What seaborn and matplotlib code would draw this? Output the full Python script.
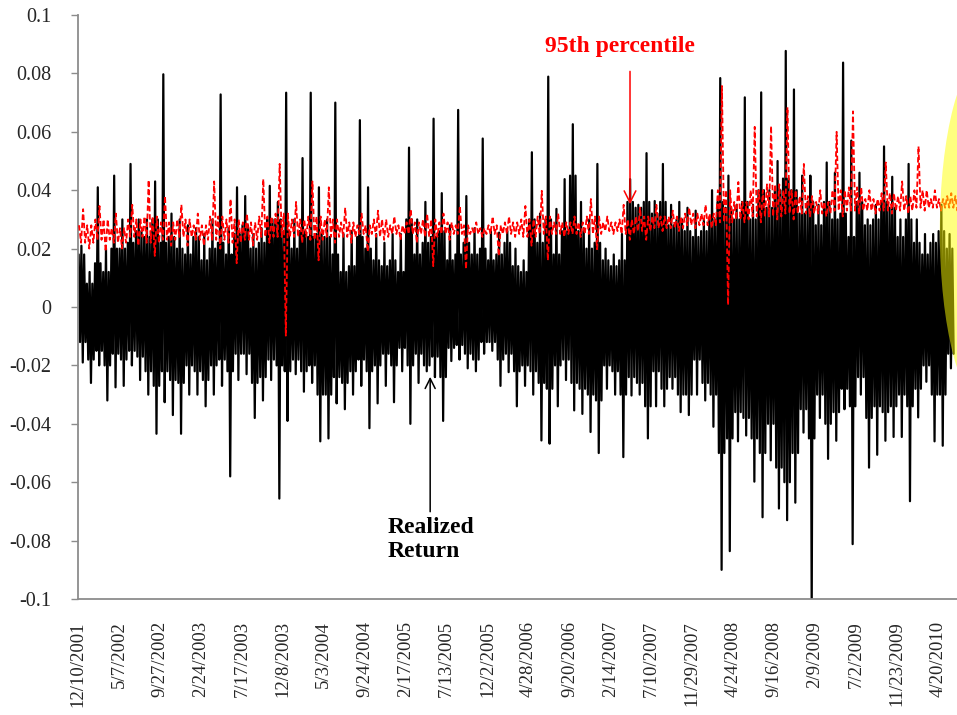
import numpy as np
import pandas as pd
import matplotlib
matplotlib.use('Agg')
import matplotlib.pyplot as plt
from matplotlib.patches import Ellipse
import seaborn as sns

# category labels shown on the x axis (one every 100 trading days)
date_labels = ['12/10/2001', '5/7/2002', '9/27/2002', '2/24/2003', '7/17/2003', '12/8/2003',
               '5/3/2004', '9/24/2004', '2/17/2005', '7/13/2005', '12/2/2005', '4/28/2006',
               '9/20/2006', '2/14/2007', '7/10/2007', '11/29/2007', '4/24/2008', '9/16/2008',
               '2/9/2009', '7/2/2009', '11/23/2009', '4/20/2010']

# realized return, read per block of 20 trading days:
# extreme high / low and the second-tier high / low (edge of the dense band)
ret_hi = [0.021, 0.012, 0.041, 0.020, 0.045, 0.030, 0.049, 0.030, 0.030, 0.043,
          0.0797, 0.032, 0.030, 0.028, 0.027, 0.025, 0.030, 0.0728, 0.027, 0.041,
          0.038, 0.025, 0.027, 0.0415, 0.036, 0.0734, 0.030, 0.051, 0.0734, 0.041,
          0.030, 0.070, 0.025, 0.026, 0.064, 0.041, 0.025, 0.022, 0.025, 0.025,
          0.0546, 0.030, 0.036, 0.0645, 0.039, 0.028, 0.0675, 0.038, 0.027, 0.0577,
          0.026, 0.0255, 0.026, 0.020, 0.016, 0.053, 0.032, 0.0789, 0.0336, 0.0438,
          0.0626, 0.036, 0.030, 0.049, 0.020, 0.018, 0.025, 0.0438, 0.035, 0.0527,
          0.0363, 0.049, 0.035, 0.036, 0.034, 0.033, 0.030, 0.040, 0.0784, 0.045,
          0.035, 0.0718, 0.035, 0.0735, 0.040, 0.050, 0.0877, 0.0745, 0.045, 0.045,
          0.035, 0.0495, 0.046, 0.0837, 0.057, 0.046, 0.030, 0.035, 0.055, 0.0446,
          0.030, 0.049, 0.030, 0.025, 0.025, 0.035, 0.025]
ret_lo = [-0.019, -0.026, -0.020, -0.032, -0.0275, -0.027, -0.020, -0.025, -0.030, -0.0434,
          -0.0326, -0.037, -0.0434, -0.030, -0.030, -0.034, -0.030, -0.027, -0.058, -0.025,
          -0.023, -0.038, -0.032, -0.025, -0.0656, -0.039, -0.023, -0.029, -0.026, -0.046,
          -0.045, -0.033, -0.035, -0.030, -0.027, -0.0415, -0.033, -0.027, -0.0326, -0.022,
          -0.040, -0.026, -0.022, -0.024, -0.039, -0.0185, -0.018, -0.021, -0.022, -0.016,
          -0.015, -0.027, -0.0223, -0.034, -0.027, -0.030, -0.0457, -0.0468, -0.034, -0.025,
          -0.0354, -0.0366, -0.0428, -0.050, -0.028, -0.030, -0.0514, -0.0303, -0.030, -0.045,
          -0.034, -0.034, -0.028, -0.036, -0.037, -0.030, -0.032, -0.041, -0.090, -0.0836,
          -0.046, -0.044, -0.0598, -0.072, -0.0525, -0.069, -0.073, -0.067, -0.043, -0.105,
          -0.038, -0.052, -0.0458, -0.035, -0.0812, -0.030, -0.055, -0.0506, -0.0458, -0.0445,
          -0.0445, -0.0665, -0.0378, -0.0256, -0.046, -0.0475, -0.021]
ret_hi2 = [0.018, 0.008, 0.015, 0.012, 0.020, 0.020, 0.022, 0.026, 0.024, 0.030,
           0.022, 0.024, 0.020, 0.018, 0.024, 0.016, 0.020, 0.022, 0.018, 0.025,
           0.028, 0.020, 0.022, 0.030, 0.030, 0.026, 0.020, 0.026, 0.024, 0.025,
           0.024, 0.018, 0.012, 0.014, 0.024, 0.020, 0.016, 0.014, 0.016, 0.012,
           0.030, 0.018, 0.022, 0.024, 0.026, 0.016, 0.018, 0.022, 0.018, 0.020,
           0.016, 0.018, 0.022, 0.014, 0.012, 0.030, 0.022, 0.030, 0.018, 0.026,
           0.045, 0.026, 0.020, 0.022, 0.016, 0.014, 0.016, 0.036, 0.034, 0.036,
           0.032, 0.036, 0.028, 0.030, 0.026, 0.024, 0.026, 0.030, 0.036, 0.034,
           0.030, 0.036, 0.030, 0.040, 0.034, 0.040, 0.044, 0.040, 0.032, 0.036,
           0.028, 0.036, 0.030, 0.032, 0.024, 0.036, 0.028, 0.030, 0.036, 0.034,
           0.024, 0.030, 0.022, 0.018, 0.022, 0.026, 0.020]
ret_lo2 = [-0.012, -0.018, -0.015, -0.020, -0.016, -0.018, -0.015, -0.017, -0.022, -0.027,
           -0.022, -0.025, -0.026, -0.020, -0.022, -0.025, -0.020, -0.018, -0.022, -0.016,
           -0.016, -0.026, -0.024, -0.018, -0.020, -0.022, -0.018, -0.022, -0.020, -0.030,
           -0.030, -0.024, -0.026, -0.022, -0.018, -0.022, -0.020, -0.016, -0.020, -0.014,
           -0.020, -0.016, -0.020, -0.017, -0.024, -0.014, -0.013, -0.016, -0.018, -0.012,
           -0.012, -0.018, -0.016, -0.022, -0.020, -0.022, -0.026, -0.028, -0.020, -0.018,
           -0.026, -0.028, -0.030, -0.032, -0.020, -0.022, -0.030, -0.024, -0.026, -0.034,
           -0.022, -0.028, -0.024, -0.030, -0.030, -0.018, -0.026, -0.030, -0.050, -0.045,
           -0.036, -0.038, -0.045, -0.050, -0.040, -0.055, -0.060, -0.050, -0.035, -0.045,
           -0.030, -0.040, -0.036, -0.028, -0.034, -0.024, -0.038, -0.034, -0.036, -0.034,
           -0.030, -0.034, -0.028, -0.020, -0.030, -0.030, -0.016]

# 95th percentile, read per block of 40 trading days (same four levels)
p95_hi = [0.0335, 0.0346, 0.032, 0.035, 0.0435, 0.038, 0.035, 0.032, 0.043, 0.037,
          0.032, 0.0438, 0.049, 0.036, 0.043, 0.041, 0.034, 0.032, 0.033, 0.031,
          0.0335, 0.032, 0.032, 0.0346, 0.029, 0.031, 0.031, 0.0346, 0.0398, 0.032,
          0.031, 0.037, 0.031, 0.035, 0.034, 0.035, 0.033, 0.034, 0.035, 0.0757,
          0.0428, 0.0617, 0.062, 0.0684, 0.049, 0.040, 0.060, 0.067, 0.040, 0.0495,
          0.043, 0.055, 0.040, 0.039]
p95_lo = [0.020, 0.019, 0.020, 0.021, 0.0175, 0.021, 0.021, 0.021, 0.020, 0.015,
          0.021, 0.022, -0.0098, 0.022, 0.016, 0.022, 0.022, 0.019, 0.023, 0.023,
          0.022, 0.014, 0.023, 0.013, 0.024, 0.0175, 0.024, 0.021, 0.016, 0.024,
          0.024, 0.0198, 0.025, 0.023, 0.023, 0.026, 0.026, 0.027, 0.027, 0.0007,
          0.029, 0.029, 0.030, 0.030, 0.031, 0.031, 0.031, 0.032, 0.032, 0.032,
          0.032, 0.033, 0.033, 0.033]
p95_hi2 = [0.028, 0.030, 0.027, 0.030, 0.031, 0.029, 0.030, 0.028, 0.031, 0.030,
           0.029, 0.031, 0.032, 0.030, 0.031, 0.030, 0.029, 0.028, 0.030, 0.028,
           0.029, 0.030, 0.029, 0.028, 0.027, 0.028, 0.029, 0.030, 0.031, 0.029,
           0.029, 0.031, 0.029, 0.030, 0.031, 0.031, 0.031, 0.032, 0.032, 0.040,
           0.036, 0.040, 0.042, 0.040, 0.038, 0.036, 0.040, 0.041, 0.037, 0.039,
           0.038, 0.040, 0.037, 0.038]
p95_lo2 = [0.022, 0.023, 0.022, 0.024, 0.022, 0.023, 0.024, 0.023, 0.023, 0.022,
           0.023, 0.024, 0.024, 0.024, 0.023, 0.024, 0.024, 0.025, 0.024, 0.025,
           0.025, 0.024, 0.025, 0.025, 0.025, 0.025, 0.025, 0.024, 0.025, 0.025,
           0.025, 0.025, 0.026, 0.025, 0.026, 0.027, 0.027, 0.028, 0.028, 0.029,
           0.030, 0.031, 0.031, 0.032, 0.032, 0.032, 0.033, 0.033, 0.033, 0.033,
           0.033, 0.034, 0.034, 0.034]


def day_series(hi, lo, hi2, lo2, block, order):
    # daily swings inside each block, visiting the read levels in the given order
    xs, ys = [], []
    step = block / len(order)
    for i in range(len(hi)):
        levels = {'hi': hi[i], 'lo': lo[i], 'hi2': hi2[i], 'lo2': lo2[i]}
        for m, name in enumerate(order):
            xs.append(i * block + step * (m + 0.5))
            ys.append(levels[name])
    return pd.DataFrame({'day': xs, 'value': ys})


ret = day_series(ret_hi, ret_lo, ret_hi2, ret_lo2, 20,
                 ['hi2', 'lo2', 'hi', 'lo', 'hi2', 'lo2'])
p95 = day_series(p95_hi, p95_lo, p95_hi2, p95_lo2, 40,
                 ['hi2', 'lo2', 'hi', 'lo2', 'hi2', 'lo', 'hi2', 'lo2'])

sns.set_theme(style='white')
plt.rcParams['font.family'] = ['Liberation Serif', 'DejaVu Serif']

fig = plt.figure(figsize=(9.57, 7.15), dpi=100)
ax = fig.add_axes([0.0815, 0.1622, 0.9185, 0.8168])

sns.lineplot(data=ret, x='day', y='value', ax=ax, color='black', lw=1.6,
             estimator=None, sort=False, zorder=2)
sns.lineplot(data=p95, x='day', y='value', ax=ax, color='red', lw=1.3,
             estimator=None, sort=False, zorder=3, linestyle=(0, (3, 1.5)))

ax.set_xlim(0, 2146.5)
ax.set_ylim(-0.1, 0.1)
yt = np.round(np.arange(-0.1, 0.1001, 0.02), 2)
ax.set_yticks(yt)
ax.set_yticklabels(['{:g}'.format(v) if v != 0 else '0' for v in yt], fontsize=14.5)
ax.set_xticks(np.arange(len(date_labels)) * 100)
ax.set_xticklabels(date_labels, rotation=90, fontsize=13.5)
ax.tick_params(axis='y', direction='out', length=5, width=1, color='#8c8c8c', pad=14, left=True)
ax.tick_params(axis='x', length=0, pad=16)
ax.set_xlabel('')
ax.set_ylabel('')
for s in ['top', 'right']:
    ax.spines[s].set_visible(False)
for s in ['left', 'bottom']:
    ax.spines[s].set_color('#8c8c8c')
    ax.spines[s].set_linewidth(1.3)

# annotations
ax.text(1323, 0.0892, '95th percentile', ha='center', va='center', color='red',
        fontsize=17, fontweight='bold')
ax.annotate('', xy=(1348, 0.0352), xytext=(1348, 0.0807),
            arrowprops=dict(arrowstyle='->,head_length=0.7,head_width=0.35', color='red',
                            lw=1.1, shrinkA=0, shrinkB=0))
ax.annotate('', xy=(860, -0.0239), xytext=(860, -0.0701),
            arrowprops=dict(arrowstyle='->,head_length=0.6,head_width=0.3', color='black',
                            lw=1.1, shrinkA=0, shrinkB=0))
ax.text(757, -0.0718, 'Realized\nReturn', ha='left', va='top', fontsize=17,
        fontweight='bold', color='black', linespacing=1.2)

ax.add_patch(Ellipse((2217, 0.026), width=225, height=0.120, facecolor=(1, 1, 0),
                     alpha=0.5, edgecolor='none', zorder=5, clip_on=False))

fig.savefig('out.png', dpi=100)
